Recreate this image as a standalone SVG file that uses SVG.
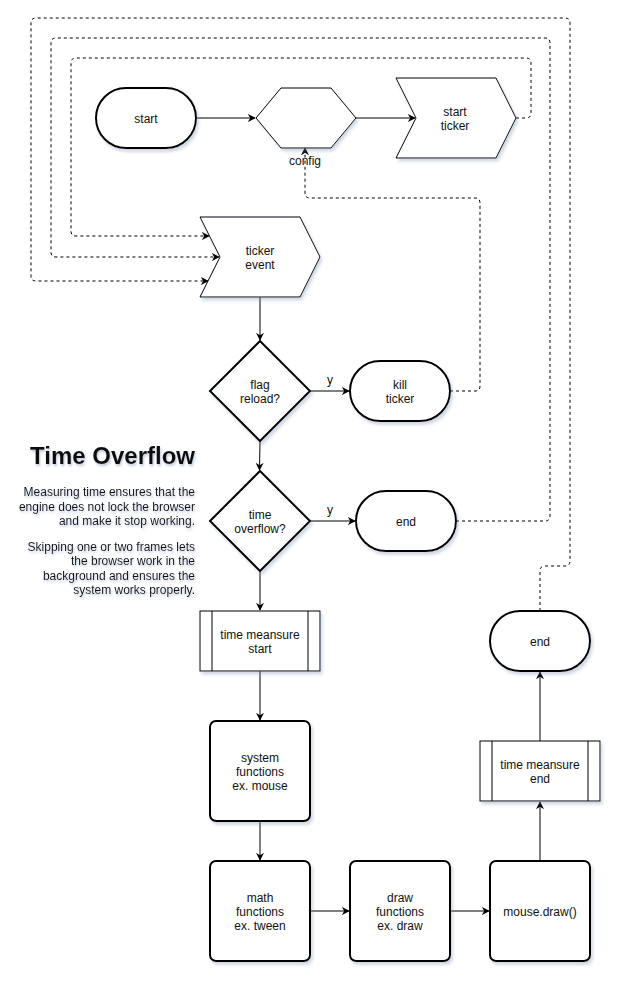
<svg xmlns="http://www.w3.org/2000/svg" width="622" height="984" viewBox="0 0 622 984">
<style>
text{font-family:"Liberation Sans",Arial,sans-serif;font-size:12px;fill:#111;}
.c{text-anchor:middle;}
.r{text-anchor:end;}
.n{fill:#fff;stroke:#000;stroke-width:1;filter:url(#sh);}
.b{fill:#fff;stroke:#000;stroke-width:2;filter:url(#sh);}
.e{fill:none;stroke:#000;stroke-width:1;}
.d{fill:none;stroke:#000;stroke-width:1;stroke-dasharray:3 3;}
.a{marker-end:url(#ar);}
.t{filter:url(#ts);}
</style>
<defs>
<filter id="sh" x="-20%" y="-20%" width="140%" height="140%">
<feDropShadow dx="2" dy="3" stdDeviation="1.5" flood-color="#8090b0" flood-opacity="0.35"/>
</filter>
<filter id="ts" x="-10%" y="-20%" width="120%" height="150%">
<feDropShadow dx="1" dy="2" stdDeviation="1.2" flood-color="#8090b0" flood-opacity="0.5"/>
</filter>
<marker id="ar" viewBox="0 0 10 10" refX="9" refY="5" markerWidth="8" markerHeight="8" markerUnits="userSpaceOnUse" orient="auto">
<path d="M0,0 L10,5 L0,10 L3,5 Z" fill="#000"/>
</marker>
</defs>

<g id="connectors">
<path class="e a" d="M196,118 H255"/>
<path class="e a" d="M356,118 H415"/>
<path class="e a" d="M260,297 V340"/>
<path class="e a" d="M310,391 H349"/>
<path class="e a" d="M260,441 L259.5,470"/>
<path class="e a" d="M310,521 H355"/>
<path class="e a" d="M260,571 V610"/>
<path class="e a" d="M260,671 V720"/>
<path class="e a" d="M260,821 V860"/>
<path class="e a" d="M310,911 H349"/>
<path class="e a" d="M450,911 H489"/>
<path class="e a" d="M540,861 V802"/>
<path class="e a" d="M540,741 V672"/>
<path class="d a" d="M516,118 H526 Q531,118 531,113 V63 Q531,58 526,58 H76 Q71,58 71,63 V231 Q71,236 76,236 H209"/>
<path class="d a" d="M456,521 H545 Q550,521 550,516 V43 Q550,38 545,38 H56 Q51,38 51,43 V252 Q51,257 56,257 H219"/>
<path class="d a" d="M540,611 V571 Q540,566 545,566 H565 Q570,566 570,561 V23 Q570,18 565,18 H36 Q31,18 31,23 V276 Q31,281 36,281 H208"/>
<path class="d a" d="M450,391 H475 Q480,391 480,386 V203 Q480,198 475,198 H310 Q305,198 305,193 V148"/>
<text x="330" y="384" class="c">y</text>
<text x="330" y="514" class="c">y</text>
</g>

<g id="start">
<rect class="b" x="96" y="88" width="100" height="60" rx="30" ry="30"/>
<text x="146" y="123" class="c">start</text>
</g>
<g id="config">
<polygon class="n" points="256,118 281,88 331,88 356,118 331,148 281,148"/>
<text x="305" y="165" class="c">config</text>
</g>
<g id="start-ticker">
<polygon class="n" points="396,78 496,78 516,118 496,158 396,158 416,118"/>
<text x="455" y="116" class="c">start</text>
<text x="455" y="130" class="c">ticker</text>
</g>
<g id="ticker-event">
<polygon class="n" points="200,217 300,217 320,257 300,297 200,297 220,257"/>
<text x="260" y="255" class="c">ticker</text>
<text x="260" y="269" class="c">event</text>
</g>
<g id="flag-reload">
<polygon class="b" points="260,341 310,391 260,441 210,391"/>
<text x="260" y="389" class="c">flag</text>
<text x="260" y="403" class="c">reload?</text>
</g>
<g id="kill-ticker">
<rect class="b" x="350" y="361" width="100" height="60" rx="30" ry="30"/>
<text x="400" y="389" class="c">kill</text>
<text x="400" y="403" class="c">ticker</text>
</g>
<g id="time-overflow">
<polygon class="b" points="260,471 310,521 260,571 210,521"/>
<text x="260" y="519" class="c">time</text>
<text x="260" y="533" class="c">overflow?</text>
</g>
<g id="end1">
<rect class="b" x="356" y="491" width="100" height="60" rx="30" ry="30"/>
<text x="406" y="526" class="c">end</text>
</g>
<g id="note">
<text x="195" y="464" class="r t" style="font-size:24px;font-weight:bold;">Time Overflow</text>
<text x="195" y="496" class="r t">Measuring time ensures that the</text>
<text x="195" y="511" class="r t">engine does not lock the browser</text>
<text x="195" y="525" class="r t">and make it stop working.</text>
<text x="195" y="551" class="r t">Skipping one or two frames lets</text>
<text x="195" y="565" class="r t">the browser work in the</text>
<text x="195" y="580" class="r t">background and ensures the</text>
<text x="195" y="594" class="r t">system works properly.</text>
</g>
<g id="time-measure-start">
<rect class="n" x="200" y="611" width="120" height="60"/>
<path class="e" d="M212,611 V671 M308,611 V671"/>
<text x="260" y="639" class="c">time meansure</text>
<text x="260" y="653" class="c">start</text>
</g>
<g id="system-functions">
<rect class="b" x="210" y="721" width="100" height="100" rx="6" ry="6"/>
<text x="260" y="762" class="c">system</text>
<text x="260" y="776" class="c">functions</text>
<text x="260" y="790" class="c">ex. mouse</text>
</g>
<g id="math-functions">
<rect class="b" x="210" y="861" width="100" height="100" rx="6" ry="6"/>
<text x="260" y="902" class="c">math</text>
<text x="260" y="916" class="c">functions</text>
<text x="260" y="930" class="c">ex. tween</text>
</g>
<g id="draw-functions">
<rect class="b" x="350" y="861" width="100" height="100" rx="6" ry="6"/>
<text x="400" y="902" class="c">draw</text>
<text x="400" y="916" class="c">functions</text>
<text x="400" y="930" class="c">ex. draw</text>
</g>
<g id="mouse-draw">
<rect class="b" x="490" y="861" width="100" height="100" rx="6" ry="6"/>
<text x="540" y="916" class="c">mouse.draw()</text>
</g>
<g id="time-measure-end">
<rect class="n" x="480" y="741" width="120" height="60"/>
<path class="e" d="M492,741 V801 M588,741 V801"/>
<text x="540" y="769" class="c">time meansure</text>
<text x="540" y="783" class="c">end</text>
</g>
<g id="end2">
<rect class="b" x="490" y="611" width="100" height="60" rx="30" ry="30"/>
<text x="540" y="646" class="c">end</text>
</g>
</svg>
